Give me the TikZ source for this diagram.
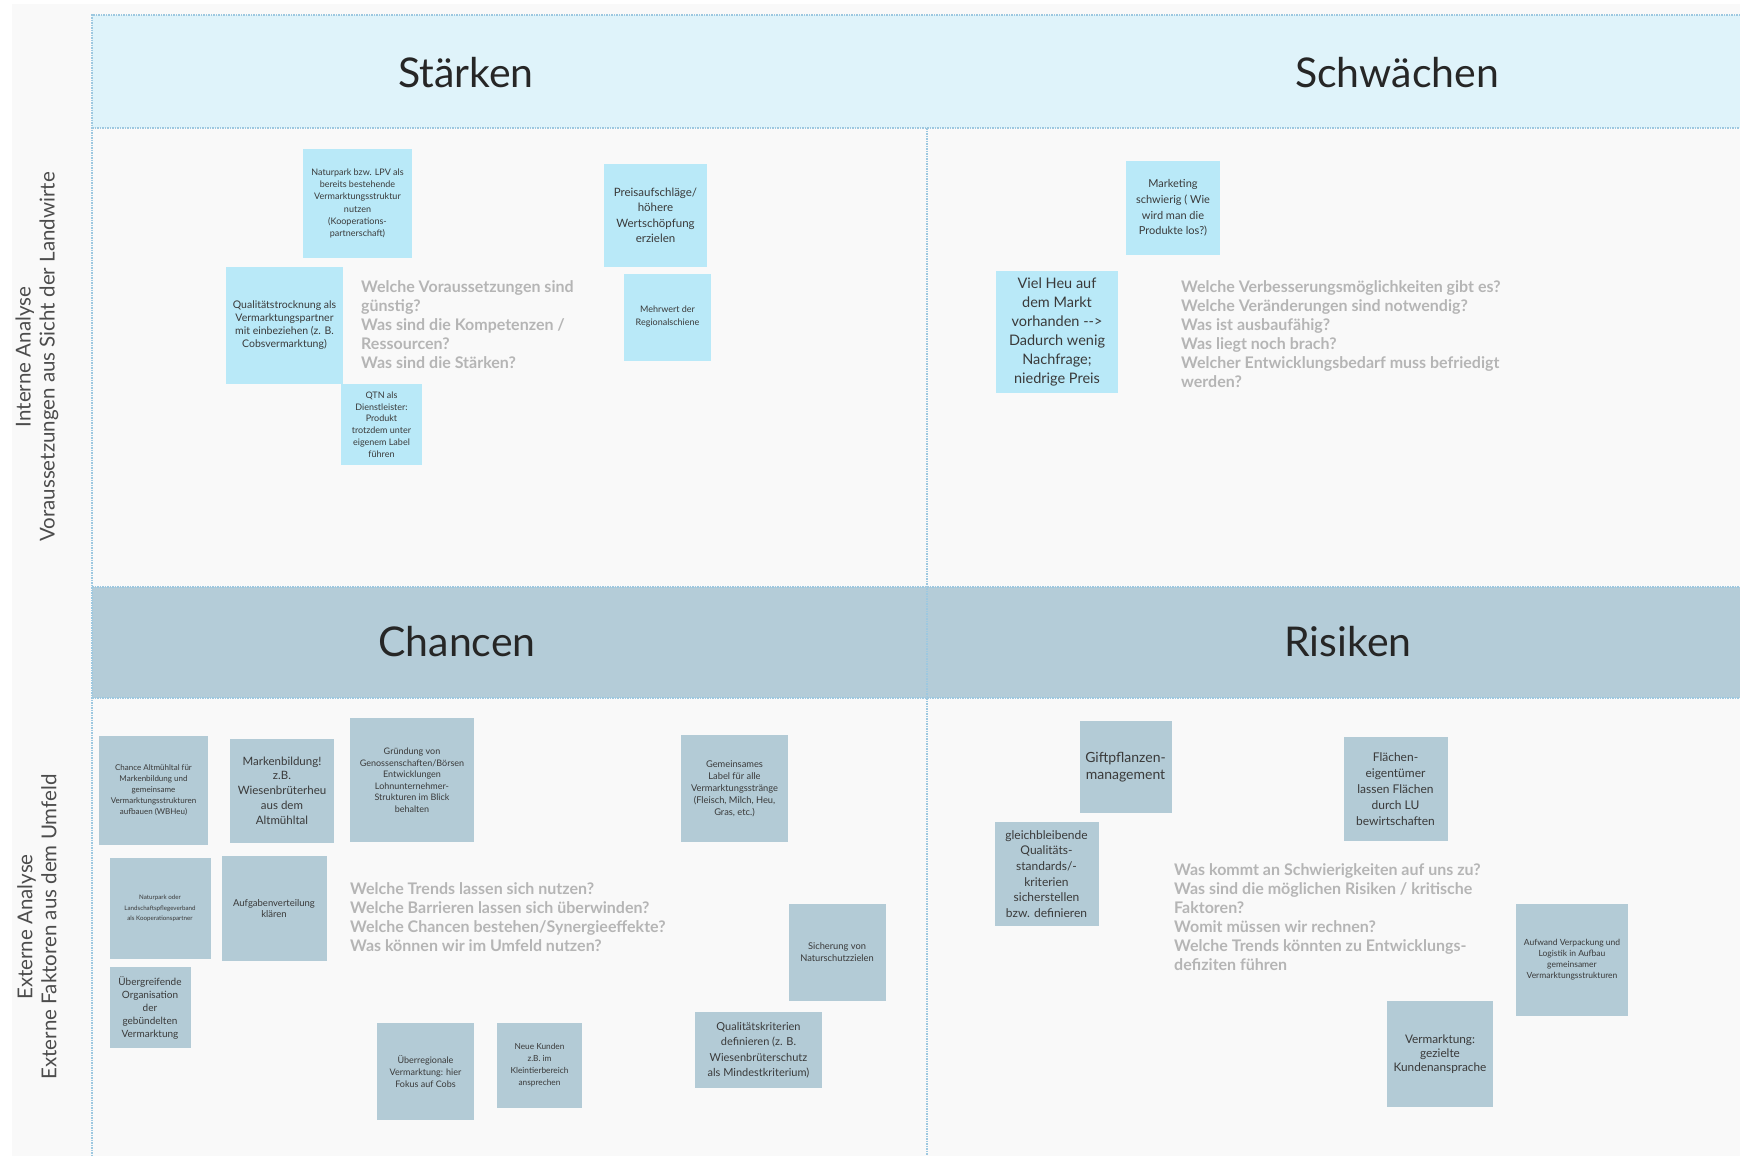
\documentclass[tikz,border=0pt]{standalone}
\usepackage{fontspec}
\setmainfont{Lato}
\usepackage{tikz}
\usetikzlibrary{positioning}

\definecolor{bgcol}{HTML}{F9F9F9}
\definecolor{headtop}{HTML}{DFF3FA}
\definecolor{headbot}{HTML}{B4CCD8}
\definecolor{notetop}{HTML}{B9E9F8}
\definecolor{notebot}{HTML}{B3CBD6}
\definecolor{gridline}{HTML}{9DC8E0}
\definecolor{asktext}{HTML}{B5B5B5}
\definecolor{notetext}{HTML}{3A3A3A}

\newcommand{\fsz}[2]{\fontsize{#1}{#2}\selectfont}

\begin{document}
\begin{tikzpicture}[x=1pt,y=-1pt,
   grid/.style={draw=gridline,line width=1.2pt,dash pattern=on 1.5pt off 1pt},
   title/.style={font=\fsz{41}{45},text=black!85},
   side/.style={rotate=90,align=center,font=\fsz{20.5}{24},text=black!70},
   ask/.style={anchor=north west,align=left,inner sep=0pt,font=\bfseries\fsz{16}{19},text=asktext},
   note/.style={rectangle,inner sep=0pt,align=center,text=notetext},
   topnote/.style={note,fill=notetop},
   botnote/.style={note,fill=notebot}]
   \useasboundingbox (0,0) rectangle (1740,1156);

   % background and quadrant grid
   \fill[white] (0,0) rectangle (1740,1156);
   \fill[bgcol] (12,4) rectangle (1740,1156);
   \fill[headtop] (92,15) rectangle (1740,128);
   \fill[headbot] (92,587) rectangle (1740,698);
   \draw[grid] (1740,15) -- (92,15) -- (92,1156);
   \draw[grid] (92,128) -- (1740,128);
   \draw[grid] (92,587) -- (1740,587);
   \draw[grid] (92,698) -- (1740,698);
   \draw[grid] (927,128) -- (927,1156);

   % titles
   \node[title] (t_staerken) at (466,73) {Stärken};
   \node[title] (t_schwaechen) at (1397,73) {Schwächen};
   \node[title] (t_chancen) at (457,642) {Chancen};
   \node[title] (t_risiken) at (1348,642) {Risiken};

   \node[side] (l_intern) at (37,357) {Interne Analyse\\Voraussetzungen aus Sicht der Landwirte};
   \node[side] (l_extern) at (37,927) {Externe Analyse\\Externe Faktoren aus dem Umfeld};

   % guiding questions
   \node[ask] (q_staerken) at (361,280.5) {Welche Voraussetzungen sind\\günstig?\\Was sind die Kompetenzen /\\Ressourcen?\\Was sind die Stärken?};
   \node[ask] (q_schwaechen) at (1181,280.5) {Welche Verbesserungsmöglichkeiten gibt es?\\Welche Veränderungen sind notwendig?\\Was ist ausbaufähig?\\Was liegt noch brach?\\Welcher Entwicklungsbedarf muss befriedigt\\werden?};
   \node[ask] (q_chancen) at (350,882.5) {Welche Trends lassen sich nutzen?\\Welche Barrieren lassen sich überwinden?\\Welche Chancen bestehen/Synergieeffekte?\\Was können wir im Umfeld nutzen?};
   \node[ask] (q_risiken) at (1174,863.5) {Was kommt an Schwierigkeiten auf uns zu?\\Was sind die möglichen Risiken / kritische\\Faktoren?\\Womit müssen wir rechnen?\\Welche Trends könnten zu Entwicklungs-\\defiziten führen};

   % Stärken
   \node[topnote,minimum size=109,font=\fsz{9}{12.3}] (s_natpark) at (357.5,203.5) {Naturpark bzw. LPV als\\bereits bestehende\\Vermarktungsstruktur\\nutzen\\(Kooperations-\\partnerschaft)};
   \node[topnote,minimum size=103,font=\fsz{11.5}{15.5}] (s_preis) at (655.5,215.5) {Preisaufschläge/\\höhere\\Wertschöpfung\\erzielen};
   \node[topnote,minimum size=117,font=\fsz{10.5}{13}] (s_qual) at (284.5,325.5) {Qualitätstrocknung als\\Vermarktungspartner\\mit einbeziehen (z. B.\\Cobsvermarktung)};
   \node[topnote,minimum size=87,font=\fsz{9}{13}] (s_mehrwert) at (667.5,317) {Mehrwert der\\Regionalschiene};
   \node[topnote,minimum size=81,font=\fsz{9}{11.7}] (s_qtn) at (381.5,424.5) {QTN als\\Dienstleister:\\Produkt\\trotzdem unter\\eigenem Label\\führen};

   % Schwächen
   \node[topnote,minimum size=94,font=\fsz{11}{15.6}] (w_marketing) at (1173,208) {Marketing\\schwierig ( Wie\\wird man die\\Produkte los?)};
   \node[topnote,minimum size=122,font=\fsz{14.5}{19}] (w_heu) at (1057,332) {Viel Heu auf\\dem Markt\\vorhanden -{}-{}>\\Dadurch wenig\\Nachfrage;\\niedrige Preis};

   % Chancen
   \node[botnote,minimum size=109,font=\fsz{8}{11}] (c_chance) at (153.5,790.5) {Chance Altmühltal für\\Markenbildung und\\gemeinsame\\Vermarktungsstrukturen\\aufbauen (WBHeu)};
   \node[botnote,minimum size=104,font=\fsz{11.5}{14.7}] (c_marke) at (282,790.5) {Markenbildung!\\z.B.\\Wiesenbrüterheu\\aus dem\\Altmühltal};
   \node[botnote,minimum size=124,font=\fsz{9}{11.5}] (c_gruendung) at (412,780) {Gründung von\\Genossenschaften/Börsen\\Entwicklungen\\Lohnunternehmer-\\Strukturen im Blick\\behalten};
   \node[botnote,minimum size=101,font=\fsz{6.2}{10.3}] (c_natpark) at (160,908.5) {Naturpark oder\\Landschaftspflegeverband\\als Kooperationspartner};
   \node[botnote,minimum size=105,font=\fsz{9.5}{11.7}] (c_aufgabe) at (274,908.5) {Aufgabenverteilung\\klären};
   \node[botnote,minimum size=81,font=\fsz{10}{13}] (c_uebergreif) at (150,1007.5) {Übergreifende\\Organisation\\der\\gebündelten\\Vermarktung};
   \node[botnote,minimum size=107,font=\fsz{9.3}{12}] (c_label) at (734.5,788.5) {Gemeinsames\\Label für alle\\Vermarktungsstränge\\(Fleisch, Milch, Heu,\\Gras, etc.)};
   \node[botnote,minimum size=97,font=\fsz{9.3}{12}] (c_sicherung) at (837,952.5) {Sicherung von\\Naturschutzzielen};
   \node[botnote,minimum width=127,minimum height=76,font=\fsz{11}{15.5}] (c_kriterien) at (758.5,1050) {Qualitätskriterien\\definieren (z. B.\\Wiesenbrüterschutz\\als Mindestkriterium)};
   \node[botnote,minimum size=97,font=\fsz{9}{11.7}] (c_ueberreg) at (425.5,1071.5) {Überregionale\\Vermarktung: hier\\Fokus auf Cobs};
   \node[botnote,minimum size=85,font=\fsz{8.3}{12}] (c_kunden) at (539.5,1065.5) {Neue Kunden\\z.B. im\\Kleintierbereich\\ansprechen};

   % Risiken
   \node[botnote,minimum size=92,font=\fsz{14}{17}] (r_gift) at (1125.5,767) {Giftpflanzen-\\management};
   \node[botnote,minimum size=104,font=\fsz{12}{15.7}] (r_gleich) at (1046.5,874) {gleichbleibende\\Qualitäts-\\standards/-\\kriterien\\sicherstellen\\bzw. definieren};
   \node[botnote,minimum size=104,font=\fsz{12}{16}] (r_flaechen) at (1395.5,789) {Flächen-\\eigentümer\\lassen Flächen\\durch LU\\bewirtschaften};
   \node[botnote,minimum size=112,font=\fsz{8.5}{11}] (r_aufwand) at (1572,960) {Aufwand Verpackung und\\Logistik in Aufbau\\gemeinsamer\\Vermarktungsstrukturen};
   \node[botnote,minimum size=106,font=\fsz{11.8}{14.3}] (r_vermarkt) at (1440,1054) {Vermarktung:\\gezielte\\Kundenansprache};
\end{tikzpicture}
\end{document}
